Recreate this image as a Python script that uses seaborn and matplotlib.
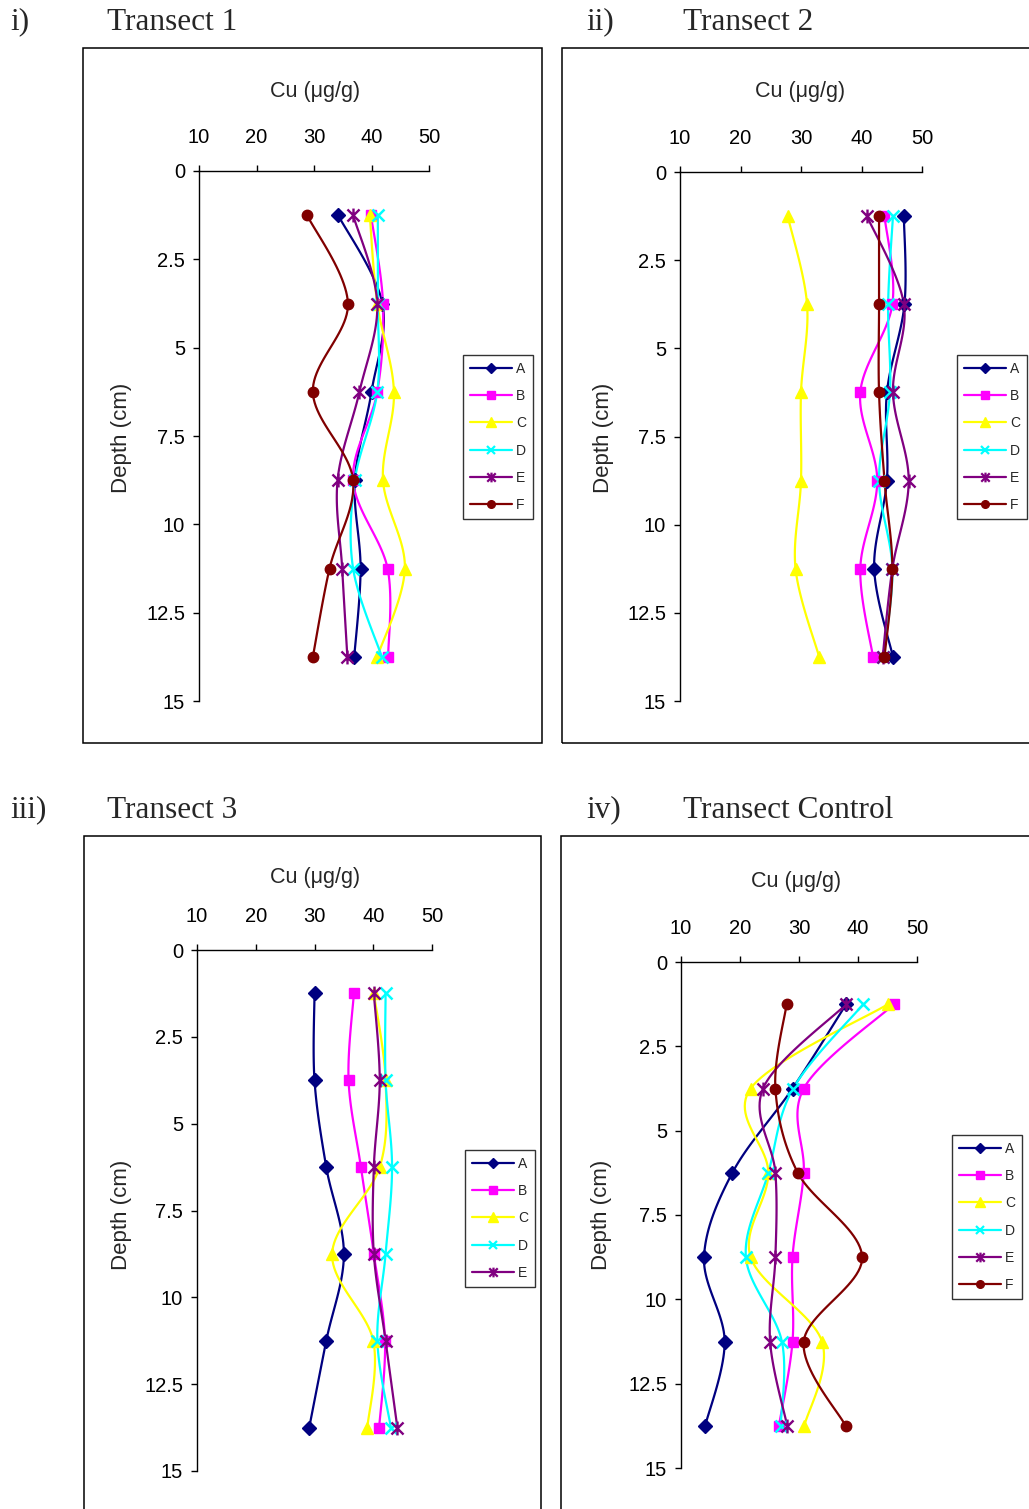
import numpy as np
import pandas as pd
import matplotlib
matplotlib.use("Agg")
import matplotlib.pyplot as plt
import seaborn as sns
from matplotlib.path import Path
from matplotlib.patches import Rectangle
from matplotlib.lines import Line2D

# ---------------------------------------------------------------- data
depth = [1.25, 3.75, 6.25, 8.75, 11.25, 13.75]
sites = ["A", "B", "C", "D", "E", "F"]

# Transect 1
t1_A = [34.2, 41.9, 40.0, 37.1, 38.1, 37.0]
t1_B = [39.9, 42.0, 41.0, 36.8, 42.8, 42.9]
t1_C = [39.7, 41.0, 43.9, 42.0, 45.8, 41.0]
t1_D = [41.1, 41.1, 41.0, 37.1, 36.8, 41.8]
t1_E = [36.8, 41.0, 37.9, 34.1, 34.9, 35.8]
t1_F = [28.8, 35.9, 29.8, 36.8, 32.7, 29.8]

# Transect 2
t2_A = [47.0, 47.1, 44.2, 44.2, 42.1, 45.2]
t2_B = [43.8, 45.1, 39.8, 42.6, 39.8, 41.9]
t2_C = [27.8, 31.0, 30.0, 30.0, 29.1, 33.0]
t2_D = [45.2, 44.4, 44.7, 42.9, 45.1, 43.6]
t2_E = [40.9, 47.0, 45.2, 47.8, 45.1, 43.5]
t2_F = [42.9, 42.9, 42.9, 43.8, 45.1, 43.8]

# Transect 3 (sites A-E only)
t3_A = [30.0, 30.0, 32.0, 35.0, 32.0, 29.1]
t3_B = [36.7, 35.8, 37.9, 40.1, 42.0, 41.0]
t3_C = [40.1, 42.1, 41.1, 33.0, 40.0, 39.0]
t3_D = [42.1, 42.1, 43.2, 42.1, 40.7, 43.0]
t3_E = [40.1, 41.1, 40.1, 40.1, 42.1, 44.1]

# Control transect
tc_A = [38.0, 28.9, 18.7, 13.9, 17.4, 14.1]
tc_B = [46.1, 30.8, 30.8, 28.9, 28.9, 26.6]
tc_C = [45.1, 21.8, 24.8, 21.8, 33.9, 30.9]
tc_D = [40.9, 29.0, 24.8, 21.0, 27.1, 26.9]
tc_E = [38.0, 23.9, 26.0, 26.0, 25.1, 28.0]
tc_F = [27.9, 26.0, 29.8, 40.7, 30.8, 37.9]

x_ticks = [10, 20, 30, 40, 50]
y_ticks = [0, 2.5, 5, 7.5, 10, 12.5, 15]
y_tick_labels = ["0", "2.5", "5", "7.5", "10", "12.5", "15"]

panels = [
    ("i)", "Transect 1", dict(zip(sites, [t1_A, t1_B, t1_C, t1_D, t1_E, t1_F]))),
    ("ii)", "Transect 2", dict(zip(sites, [t2_A, t2_B, t2_C, t2_D, t2_E, t2_F]))),
    ("iii)", "Transect 3", dict(zip(sites[:5], [t3_A, t3_B, t3_C, t3_D, t3_E]))),
    ("iv)", "Transect Control", dict(zip(sites, [tc_A, tc_B, tc_C, tc_D, tc_E, tc_F]))),
]

# ---------------------------------------------------------------- styling
colors = {"A": "#000080", "B": "#FF00FF", "C": "#FFFF00",
          "D": "#00FFFF", "E": "#800080", "F": "#800000"}

star = Path([(-1, -1), (1, 1), (-1, 1), (1, -1), (0, -1.15), (0, 1.15)],
            [Path.MOVETO, Path.LINETO, Path.MOVETO, Path.LINETO,
             Path.MOVETO, Path.LINETO])
markers = {
    "A": dict(marker="D", ms=7.5, mfc=colors["A"], mec=colors["A"]),
    "B": dict(marker="s", ms=7.5, mfc=colors["B"], mec=colors["B"]),
    "C": dict(marker="^", ms=9, mfc=colors["C"], mec=colors["C"]),
    "D": dict(marker="x", ms=8, mfc="none", mec=colors["D"], mew=1.8),
    "E": dict(marker=star, ms=10, mfc="none", mec=colors["E"], mew=1.7),
    "F": dict(marker="o", ms=7.5, mfc=colors["F"], mec=colors["F"]),
}
legend_markers = {
    "A": dict(marker="D", ms=5, mfc=colors["A"], mec=colors["A"]),
    "B": dict(marker="s", ms=5.5, mfc=colors["B"], mec=colors["B"]),
    "C": dict(marker="^", ms=7, mfc=colors["C"], mec=colors["C"]),
    "D": dict(marker="x", ms=6, mfc="none", mec=colors["D"], mew=1.6),
    "E": dict(marker=star, ms=7, mfc="none", mec=colors["E"], mew=1.6),
    "F": dict(marker="o", ms=5.5, mfc=colors["F"], mec=colors["F"]),
}

sns.set_theme(style="white")
plt.rcParams["font.family"] = ["Liberation Sans", "DejaVu Sans"]
plt.rcParams["axes.linewidth"] = 1.0

W, H = 1029, 1509
fig = plt.figure(figsize=(W / 100, H / 100), dpi=100)
fig.patch.set_facecolor("white")


def fx(x):
    return x / W


def fy(y):
    return 1 - y / H


def smooth(xs, ys, n=24):
    """Bezier smoothing through every point (Catmull-Rom style)."""
    p = np.column_stack([xs, ys]).astype(float)
    ext = np.vstack([p[0], p, p[-1]])
    out = []
    for i in range(len(p) - 1):
        p0, p1, p2, p3 = ext[i], ext[i + 1], ext[i + 2], ext[i + 3]
        b1 = p1 + (p2 - p0) / 6.0
        b2 = p2 - (p3 - p1) / 6.0
        t = np.linspace(0, 1, n, endpoint=(i == len(p) - 2))[:, None]
        seg = ((1 - t) ** 3) * p1 + 3 * ((1 - t) ** 2) * t * b1 \
            + 3 * (1 - t) * t ** 2 * b2 + t ** 3 * p2
        out.append(seg)
    out = np.vstack(out)
    return out[:, 0], out[:, 1]


# pixel layout: axes box, outer frame, label positions, legend anchor
layout = [
    dict(ax=(199, 429, 171, 701), frame=(83, 542, 48, 743),
         tag=(10, 22), title=(107, 22), cu=(315, 92), dep=(122, 438),
         leg=(463, 355)),
    dict(ax=(680, 922, 172, 701), frame=(562, 1100, 48, 743),
         tag=(586, 22), title=(683, 22), cu=(800, 92), dep=(603, 438),
         leg=(957, 355)),
    dict(ax=(197, 432, 950, 1471), frame=(84, 541, 836, 1600),
         tag=(10, 810), title=(107, 810), cu=(315, 877), dep=(122, 1215),
         leg=(465, 1150)),
    dict(ax=(681, 917, 962, 1468), frame=(561, 1100, 836, 1600),
         tag=(586, 810), title=(683, 810), cu=(796, 881), dep=(602, 1215),
         leg=(952, 1135)),
]

for (tag, title, series), lay in zip(panels, layout):
    l, r, t, b = lay["ax"]
    ax = fig.add_axes([fx(l), fy(b), fx(r - l), (b - t) / H])
    ax.set_facecolor("none")

    for site, vals in series.items():
        cx, cy = smooth(vals, depth)
        curve = pd.DataFrame({"Cu": cx, "Depth": cy})
        sns.lineplot(data=curve, x="Cu", y="Depth", sort=False,
                     estimator=None, color=colors[site], lw=1.6, ax=ax,
                     legend=False, clip_on=False)
        ax.plot(vals, depth, ls="none", clip_on=False, zorder=3,
                **markers[site])

    ax.set_xlim(10, 50)
    ax.set_ylim(15, 0)
    ax.set_xticks(x_ticks)
    ax.set_yticks(y_ticks)
    ax.set_yticklabels(y_tick_labels)
    ax.xaxis.tick_top()
    ax.tick_params(axis="x", which="both", top=True, bottom=False,
                   direction="out", length=4, width=1, pad=13.5,
                   labelsize=14.5, colors="black")
    ax.tick_params(axis="y", which="both", left=True, direction="out",
                   length=4, width=1, pad=6, labelsize=14.5, colors="black")
    ax.set_xlabel("")
    ax.set_ylabel("")
    for side in ("right", "bottom"):
        ax.spines[side].set_visible(False)
    for side in ("left", "top"):
        ax.spines[side].set_color("black")
        ax.spines[side].set_linewidth(1.0)

    # outer frame around each panel
    fl, fr, ft, fb = lay["frame"]
    fig.add_artist(Rectangle((fx(fl), fy(fb)), fx(fr - fl), (fb - ft) / H,
                             transform=fig.transFigure, fill=False,
                             edgecolor="black", lw=1.1))

    fig.text(fx(lay["tag"][0]), fy(lay["tag"][1]), tag, ha="left",
             va="center", fontsize=22.5, family=["Liberation Serif"])
    fig.text(fx(lay["title"][0]), fy(lay["title"][1]), title, ha="left",
             va="center", fontsize=22.5, family=["Liberation Serif"])
    fig.text(fx(lay["cu"][0]), fy(lay["cu"][1]), "Cu (\u03bcg/g)",
             ha="center", va="center", fontsize=15.5)
    fig.text(fx(lay["dep"][0]), fy(lay["dep"][1]), "Depth (cm)",
             ha="center", va="center", rotation=90, fontsize=16)

    handles = [Line2D([], [], color=colors[s], lw=1.6, **legend_markers[s])
               for s in series]
    leg = fig.legend(handles, list(series), loc="upper left",
                     bbox_to_anchor=(fx(lay["leg"][0]), fy(lay["leg"][1])),
                     bbox_transform=fig.transFigure, frameon=True,
                     fancybox=False, edgecolor="black", fontsize=10,
                     handlelength=3.0, handletextpad=0.3, labelspacing=0.95,
                     borderpad=0.5, borderaxespad=0)
    leg.get_frame().set_linewidth(1.0)

fig.savefig("out.png", dpi=100, facecolor="white")
